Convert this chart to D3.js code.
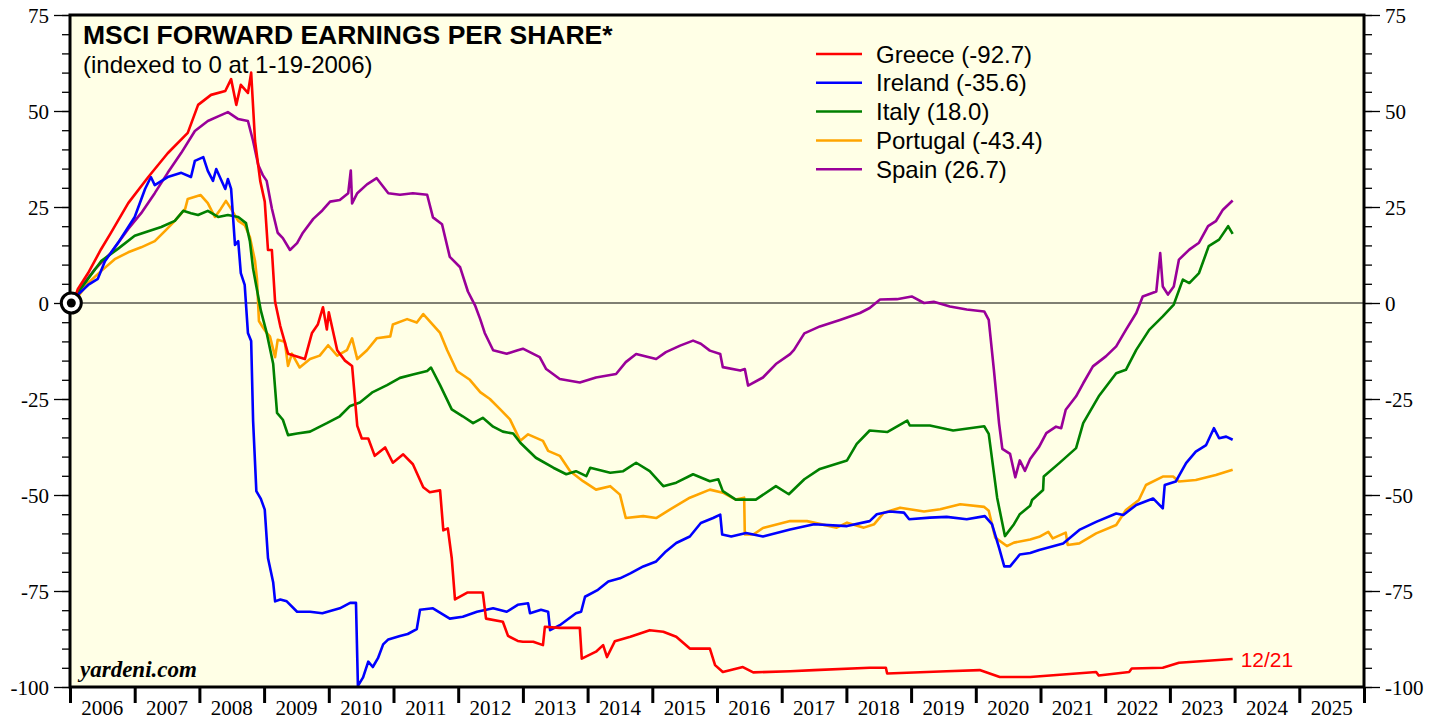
<!DOCTYPE html>
<html lang="en">
<head>
  <meta charset="UTF-8" />
  <title>MSCI Forward Earnings Per Share</title>
  <style>
    body {
      margin: 0;
      background: white;
    }
    svg {
      display: block;
    }
    .tick-label {
      font-family: "Liberation Serif", "Times New Roman", serif;
      font-size: 21px;
      fill: #000;
    }
    .title {
      font-family: "Liberation Sans", Arial, sans-serif;
      font-weight: bold;
      font-size: 26.5px;
    }
    .subtitle, .legend-label {
      font-family: "Liberation Sans", Arial, sans-serif;
      font-size: 24px;
    }
    .end-label {
      font-family: "Liberation Sans", Arial, sans-serif;
      font-size: 21px;
    }
    .credit {
      font-family: "Liberation Serif", "Times New Roman", serif;
      font-weight: bold;
      font-style: italic;
      font-size: 23px;
    }
  </style>
</head>
<body>
  <svg width="1442" height="719"></svg>

  <script src="https://d3js.org/d3.v7.min.js"></script>
  <script>
    // [year, index value] (indexed to 0 at 1-19-2006)
    const greece = [
      [2006.05, 0], [2006.12, 3.6], [2006.28, 7.8], [2006.48, 14], [2006.63, 18.2],
      [2006.90, 26], [2007.21, 32.8], [2007.51, 39], [2007.82, 44.3], [2007.98, 51.6],
      [2008.18, 54.2], [2008.40, 55.2], [2008.49, 58.3], [2008.57, 51.6], [2008.64, 56.8],
      [2008.75, 54.7], [2008.80, 60], [2008.86, 42.2], [2008.94, 31.8], [2009.01, 26.4],
      [2009.06, 13.8], [2009.12, 13.8], [2009.17, 0.3], [2009.25, -6], [2009.37, -13.2],
      [2009.63, -14.6], [2009.74, -7.8], [2009.83, -5.6], [2009.91, -1.1], [2009.97, -6.9],
      [2010.00, -2.4], [2010.13, -12.3], [2010.25, -15], [2010.36, -16.4], [2010.44, -32],
      [2010.51, -35.3], [2010.61, -35.3], [2010.71, -39.8], [2010.87, -37.6], [2010.99, -41.6],
      [2011.15, -39.4], [2011.30, -42], [2011.46, -48], [2011.56, -49.3], [2011.72, -48.8],
      [2011.77, -59.2], [2011.84, -58.7], [2011.90, -66.4], [2011.95, -77.2], [2012.14, -75.4],
      [2012.38, -75.4], [2012.43, -82.2], [2012.69, -83], [2012.77, -86.7], [2012.92, -88],
      [2013.00, -88.2], [2013.16, -88.2], [2013.31, -89.1], [2013.34, -84.3], [2013.57, -84.6],
      [2013.88, -84.6], [2013.91, -92.6], [2014.13, -90.8], [2014.24, -89.1], [2014.30, -92.2],
      [2014.42, -88.1], [2014.66, -86.9], [2014.96, -85.2], [2015.17, -85.6], [2015.37, -86.9],
      [2015.58, -90], [2015.89, -90], [2015.97, -94.3], [2016.09, -96.1], [2016.40, -94.8],
      [2016.56, -96.2], [2017.13, -95.9], [2017.50, -95.6], [2018.36, -95], [2018.61, -95],
      [2018.63, -96.5], [2019.55, -95.9], [2020.06, -95.6], [2020.37, -97.4], [2020.84, -97.4],
      [2021.86, -96.1], [2021.90, -97], [2022.37, -96.1], [2022.41, -95.2], [2022.89, -95],
      [2023.14, -93.7], [2023.97, -92.7]
    ];

    const ireland = [
      [2006.05, 0], [2006.12, 2.1], [2006.28, 4.7], [2006.43, 6.3], [2006.54, 10.9],
      [2006.74, 15.6], [2007.00, 22.4], [2007.16, 29.7], [2007.25, 32.8], [2007.31, 30.7],
      [2007.51, 32.8], [2007.72, 33.9], [2007.87, 32.8], [2007.93, 37], [2008.06, 38],
      [2008.13, 34.4], [2008.21, 31.8], [2008.26, 34.9], [2008.40, 29.7], [2008.44, 32.3],
      [2008.49, 29.7], [2008.55, 15.1], [2008.60, 16.1], [2008.64, 7.8], [2008.70, 4.7],
      [2008.75, -7.8], [2008.80, -9.9], [2008.83, -30.7], [2008.88, -49], [2008.95, -51],
      [2009.01, -53.8], [2009.06, -66.4], [2009.14, -72.7], [2009.17, -77.7], [2009.25, -77.2],
      [2009.35, -77.7], [2009.51, -80.4], [2009.71, -80.4], [2009.90, -80.8], [2010.17, -79.5],
      [2010.33, -78.1], [2010.42, -78.1], [2010.45, -99.7], [2010.53, -97.5], [2010.61, -93.4],
      [2010.68, -94.8], [2010.76, -92.5], [2010.84, -88.9], [2010.92, -87.6], [2011.10, -86.7],
      [2011.22, -86.2], [2011.36, -84.9], [2011.41, -79.9], [2011.61, -79.5], [2011.87, -82.2],
      [2012.07, -81.7], [2012.29, -80.4], [2012.54, -79.5], [2012.75, -80.4], [2012.92, -78.6],
      [2013.08, -78.2], [2013.11, -80.8], [2013.28, -79.9], [2013.39, -80.4], [2013.42, -85.2],
      [2013.57, -83.9], [2013.82, -80.8], [2013.90, -80.4], [2013.96, -76.5], [2014.16, -74.7],
      [2014.32, -72.5], [2014.50, -71.7], [2014.66, -70.4], [2014.86, -68.6], [2015.06, -67.3],
      [2015.21, -64.7], [2015.37, -62.5], [2015.58, -60.8], [2015.75, -57.3], [2015.94, -56],
      [2016.05, -55.1], [2016.08, -60.3], [2016.22, -60.8], [2016.45, -59.9], [2016.71, -60.8],
      [2017.13, -59], [2017.50, -57.6], [2018.01, -58.1], [2018.36, -56.8], [2018.47, -55],
      [2018.67, -54.3], [2018.89, -54.6], [2018.97, -56.3], [2019.29, -55.9], [2019.55, -55.7],
      [2019.86, -56.3], [2020.14, -55.5], [2020.25, -57.6], [2020.36, -63.8], [2020.44, -68.6],
      [2020.53, -68.6], [2020.68, -65.5], [2020.84, -65.1], [2020.98, -64.3], [2021.35, -62.6],
      [2021.60, -59.1], [2021.86, -57], [2022.17, -54.8], [2022.28, -55.2], [2022.48, -52.6],
      [2022.74, -50.9], [2022.89, -53.5], [2022.92, -47.4], [2023.09, -46.5], [2023.25, -41.7],
      [2023.40, -38.7], [2023.56, -37], [2023.68, -32.6], [2023.76, -35.2], [2023.87, -34.8],
      [2023.97, -35.6]
    ];

    const italy = [
      [2006.05, 0], [2006.12, 2.6], [2006.28, 6.3], [2006.48, 10.9], [2006.74, 14.1],
      [2007.00, 17.5], [2007.21, 18.7], [2007.41, 19.8], [2007.62, 21.4], [2007.75, 24],
      [2007.87, 23.4], [2007.98, 22.9], [2008.13, 24], [2008.29, 22.4], [2008.44, 22.9],
      [2008.60, 22.4], [2008.72, 20.8], [2008.78, 16.1], [2008.83, 8.9], [2008.91, 1.6],
      [2008.95, -2], [2009.04, -7.8], [2009.14, -15.8], [2009.20, -28.6], [2009.29, -30.4],
      [2009.37, -34.4], [2009.51, -34], [2009.71, -33.5], [2009.97, -31.3], [2010.17, -29.5],
      [2010.33, -26.8], [2010.48, -25.9], [2010.68, -23.2], [2010.90, -21.4], [2011.10, -19.5],
      [2011.30, -18.6], [2011.52, -17.7], [2011.58, -16.8], [2011.72, -21.4], [2011.90, -27.7],
      [2012.07, -29.5], [2012.23, -31.3], [2012.38, -29.9], [2012.54, -32.2], [2012.69, -33.5],
      [2012.85, -34], [2012.96, -36.4], [2013.20, -40.3], [2013.47, -42.9], [2013.67, -44.6],
      [2013.82, -43.8], [2013.98, -45.1], [2014.04, -42.9], [2014.35, -44.2], [2014.55, -43.8],
      [2014.75, -41.6], [2014.96, -43.8], [2015.17, -47.7], [2015.37, -46.8], [2015.63, -44.6],
      [2015.89, -46.4], [2016.02, -45.9], [2016.09, -49], [2016.29, -51.2], [2016.60, -51.2],
      [2016.91, -47.7], [2017.11, -49.8], [2017.35, -45.9], [2017.59, -43.2], [2018.01, -41],
      [2018.16, -36.7], [2018.36, -33.2], [2018.63, -33.6], [2018.94, -30.6], [2018.98, -31.9],
      [2019.29, -31.9], [2019.65, -33.2], [2020.13, -32.1], [2020.20, -34.1], [2020.33, -50.7],
      [2020.45, -60.7], [2020.59, -57.6], [2020.68, -55], [2020.84, -52.8], [2020.87, -51.3],
      [2021.04, -48.7], [2021.05, -45.2], [2021.29, -41.7], [2021.55, -37.8], [2021.66, -31.3],
      [2021.90, -24.3], [2022.17, -18.3], [2022.32, -17.4], [2022.48, -12.2], [2022.68, -7],
      [2022.89, -3.5], [2023.06, -0.4], [2023.20, 6.1], [2023.30, 5.2], [2023.45, 7.8],
      [2023.60, 14.8], [2023.76, 16.5], [2023.90, 20], [2023.97, 18]
    ];

    const portugal = [
      [2006.05, 0], [2006.12, 1.6], [2006.28, 5.2], [2006.48, 8.3], [2006.70, 11.5],
      [2006.90, 13.2], [2007.10, 14.5], [2007.31, 16.1], [2007.47, 18.8], [2007.62, 21.4],
      [2007.78, 24.5], [2007.82, 27.1], [2008.02, 28.1], [2008.13, 26], [2008.24, 22.4],
      [2008.33, 24.5], [2008.41, 26.6], [2008.49, 24.5], [2008.60, 21.4], [2008.70, 20.3],
      [2008.78, 17.2], [2008.86, 10.9], [2008.89, 6.3], [2008.92, -4.7], [2008.98, -6.3],
      [2009.04, -7.8], [2009.09, -8.7], [2009.17, -14.1], [2009.21, -9.6], [2009.32, -10.1],
      [2009.37, -16.4], [2009.43, -13.2], [2009.55, -16.8], [2009.71, -14.6], [2009.86, -13.7],
      [2009.99, -11], [2010.13, -13.7], [2010.28, -12.3], [2010.36, -9.2], [2010.44, -14.6],
      [2010.59, -12.3], [2010.74, -9.2], [2010.95, -8.7], [2010.99, -5.6], [2011.21, -4.2],
      [2011.36, -5.1], [2011.46, -2.9], [2011.53, -4.2], [2011.72, -7.8], [2011.83, -12.3],
      [2011.98, -17.7], [2012.18, -20], [2012.34, -23.2], [2012.49, -25], [2012.65, -27.7],
      [2012.80, -30.3], [2012.96, -35.9], [2013.08, -34.2], [2013.31, -35.9], [2013.39, -38.5],
      [2013.57, -39.8], [2013.73, -43.8], [2013.93, -46.4], [2014.13, -48.6], [2014.35, -47.7],
      [2014.50, -49.9], [2014.59, -56], [2014.86, -55.5], [2015.06, -56], [2015.27, -53.8],
      [2015.58, -50.7], [2015.89, -48.6], [2016.09, -49.4], [2016.29, -51.2], [2016.42, -50.7],
      [2016.43, -60.3], [2016.56, -60.3], [2016.71, -58.6], [2017.13, -56.8], [2017.39, -56.8],
      [2017.85, -58.5], [2018.01, -57.2], [2018.27, -58.5], [2018.43, -57.6], [2018.58, -54.6],
      [2018.83, -53.3], [2019.20, -54.3], [2019.45, -53.7], [2019.76, -52.4], [2020.13, -53.1],
      [2020.20, -54.1], [2020.30, -61.1], [2020.48, -63.3], [2020.59, -62.4], [2020.84, -61.6],
      [2020.98, -60.9], [2021.12, -59.6], [2021.19, -61.3], [2021.39, -59.8], [2021.42, -63],
      [2021.60, -62.6], [2021.86, -60], [2022.17, -57.8], [2022.32, -53.9], [2022.52, -51.3],
      [2022.63, -47.4], [2022.89, -45.2], [2023.05, -45.2], [2023.14, -46.5], [2023.40, -46.1],
      [2023.71, -44.8], [2023.97, -43.4]
    ];

    const spain = [
      [2006.05, 0], [2006.12, 3.1], [2006.39, 8.9], [2006.63, 13], [2006.90, 19.3],
      [2007.10, 23.4], [2007.31, 28.6], [2007.51, 33.9], [2007.72, 39.1], [2007.93, 44.8],
      [2008.13, 47.4], [2008.29, 48.6], [2008.44, 49.7], [2008.60, 47.9], [2008.75, 47.4],
      [2008.83, 42.2], [2008.91, 35.9], [2008.98, 33.3], [2009.04, 31.8], [2009.12, 24.6],
      [2009.21, 18.3], [2009.29, 16.9], [2009.40, 13.8], [2009.51, 15.6], [2009.60, 18.3],
      [2009.76, 21.9], [2009.90, 24.1], [2010.02, 26.4], [2010.17, 26.8], [2010.30, 28.6],
      [2010.34, 34.5], [2010.36, 25.9], [2010.44, 28.6], [2010.59, 30.9], [2010.74, 32.5],
      [2010.92, 28.6], [2011.10, 28.2], [2011.30, 28.6], [2011.52, 28.2], [2011.61, 22.3],
      [2011.75, 20.5], [2011.87, 12], [2012.03, 9.3], [2012.15, 3], [2012.26, -0.6],
      [2012.34, -4.2], [2012.41, -7.8], [2012.54, -12.3], [2012.75, -13.2], [2012.92, -12.3],
      [2013.00, -11.9], [2013.26, -14.1], [2013.36, -17.2], [2013.57, -19.8], [2013.88, -20.7],
      [2014.13, -19.4], [2014.44, -18.5], [2014.59, -15.4], [2014.75, -13.3], [2015.06, -14.6],
      [2015.21, -12.8], [2015.43, -11.1], [2015.63, -9.8], [2015.75, -10.6], [2015.89, -12.4],
      [2016.05, -13.3], [2016.09, -16.7], [2016.36, -17.6], [2016.43, -17.2], [2016.48, -21.5],
      [2016.71, -19.4], [2016.91, -15.9], [2017.13, -13.3], [2017.19, -12.2], [2017.35, -7.9],
      [2017.59, -6.1], [2017.90, -4.4], [2018.21, -2.6], [2018.36, -1.3], [2018.52, 0.9],
      [2018.78, 1], [2019.01, 1.7], [2019.20, 0], [2019.35, 0.3], [2019.60, -0.9],
      [2019.86, -1.7], [2020.13, -2.2], [2020.20, -4.4], [2020.28, -17.5], [2020.36, -31.4],
      [2020.41, -38], [2020.53, -39.3], [2020.61, -45.4], [2020.68, -41], [2020.76, -43.7],
      [2020.84, -40.6], [2020.98, -37.4], [2021.09, -33.9], [2021.24, -32.2], [2021.32, -32.6],
      [2021.39, -27.8], [2021.55, -24.3], [2021.66, -20.9], [2021.81, -16.5], [2022.01, -13.9],
      [2022.17, -11.3], [2022.32, -7], [2022.48, -2.6], [2022.58, 1.7], [2022.79, 3],
      [2022.85, 13], [2022.89, 4.3], [2022.97, 2.2], [2023.06, 4.3], [2023.14, 11.3],
      [2023.30, 13.9], [2023.45, 15.7], [2023.59, 20], [2023.71, 21.3], [2023.82, 24.3],
      [2023.97, 26.7]
    ];

    const seriesNames = ["Greece (-92.7)", "Ireland (-35.6)", "Italy (18.0)", "Portugal (-43.4)", "Spain (26.7)"];
    const seriesColors = ["#ff0000", "#0000ff", "#008000", "#ffa500", "#990099"];
    const seriesData = [greece, ireland, italy, portugal, spain];

    const yearTicks = d3.range(2006, 2027);
    const yearLabels = d3.range(2006, 2026);
    const yMajorTicks = d3.range(-100, 76, 25);
    const yMinorTicks = d3.range(-100, 76, 5);

    const plot = { left: 70, right: 1364, top: 15, bottom: 687 };
    const serif = "'Liberation Serif', 'Times New Roman', serif";

    const svg = d3.select("svg");

    const x = d3.scaleLinear().domain([2006, 2026]).range([plot.left, plot.right]);
    const y = d3.scaleLinear().domain([-100, 75]).range([plot.bottom, plot.top]);

    // plot background
    svg.append("rect")
      .attr("x", plot.left)
      .attr("y", plot.top)
      .attr("width", plot.right - plot.left)
      .attr("height", plot.bottom - plot.top)
      .attr("fill", "#ffffe6");

    // zero line
    svg.append("line")
      .attr("x1", plot.left).attr("x2", plot.right)
      .attr("y1", y(0)).attr("y2", y(0))
      .attr("stroke", "#000")
      .attr("stroke-width", 1);

    // y axes, both sides
    function yAxis(g, axisFn, minor) {
      const a = axisFn(y)
        .tickValues(minor ? yMinorTicks : yMajorTicks)
        .tickSize(minor ? 7 : 15)
        .tickPadding(5)
        .tickFormat(minor ? "" : d => d);
      g.call(a);
      g.select(".domain").remove();
      g.attr("font-family", serif).attr("font-size", 21);
      g.selectAll(".tick line").attr("stroke", "#000").attr("stroke-width", 1.3);
      g.selectAll(".tick text")
        .style("font-family", serif)
        .style("font-size", "21px")
        .attr("fill", "#000")
        .attr("dy", "0.35em");
    }

    svg.append("g").attr("transform", `translate(${plot.left - 1},0)`).call(yAxis, d3.axisLeft, true);
    svg.append("g").attr("transform", `translate(${plot.left - 1},0)`).call(yAxis, d3.axisLeft, false);
    svg.append("g").attr("transform", `translate(${plot.right + 1},0)`).call(yAxis, d3.axisRight, true);
    svg.append("g").attr("transform", `translate(${plot.right + 1},0)`).call(yAxis, d3.axisRight, false);

    // x axis: ticks at year boundaries, labels centered in each year
    const xg = svg.append("g").attr("transform", `translate(0,${plot.bottom})`);
    xg.call(d3.axisBottom(x).tickValues(yearTicks).tickSize(16).tickFormat(""));
    xg.select(".domain").remove();
    xg.selectAll(".tick line").attr("stroke", "#000").attr("stroke-width", 3);

    svg.append("g")
      .selectAll("text")
      .data(yearLabels)
      .join("text")
        .attr("class", "tick-label")
        .style("font-family", serif)
        .attr("x", d => x(d + 0.5))
        .attr("y", 715)
        .attr("text-anchor", "middle")
        .text(d => d);

    // series lines
    const line = d3.line()
      .x(d => x(d[0]))
      .y(d => y(d[1]));

    const order = [4, 3, 2, 1, 0];
    svg.append("g")
      .selectAll("path")
      .data(order)
      .join("path")
        .attr("d", i => line(seriesData[i]))
        .attr("fill", "none")
        .attr("stroke", i => seriesColors[i])
        .attr("stroke-width", 2.6)
        .attr("stroke-linejoin", "round");

    // frame
    svg.append("rect")
      .attr("x", plot.left)
      .attr("y", plot.top)
      .attr("width", plot.right - plot.left)
      .attr("height", plot.bottom - plot.top)
      .attr("fill", "none")
      .attr("stroke", "#000")
      .attr("stroke-width", 3);

    // index origin marker
    svg.append("circle")
      .attr("cx", x(2006.02)).attr("cy", y(0)).attr("r", 10)
      .attr("fill", "#fff").attr("stroke", "#000").attr("stroke-width", 3);
    svg.append("circle")
      .attr("cx", x(2006.02)).attr("cy", y(0)).attr("r", 4.5)
      .attr("fill", "#000");

    // titles
    svg.append("text")
      .attr("class", "title")
      .attr("x", 83).attr("y", 44)
      .text("MSCI FORWARD EARNINGS PER SHARE*");

    svg.append("text")
      .attr("class", "subtitle")
      .attr("x", 83).attr("y", 73)
      .text("(indexed to 0 at 1-19-2006)");

    // legend
    const legend = svg.append("g")
      .selectAll("g")
      .data(seriesNames)
      .join("g")
        .attr("transform", (d, i) => `translate(816,${54 + i * 28.8})`);

    legend.append("line")
      .attr("x1", 0).attr("x2", 46)
      .attr("stroke", (d, i) => seriesColors[i])
      .attr("stroke-width", 2.5);

    legend.append("text")
      .attr("class", "legend-label")
      .attr("x", 60)
      .attr("y", 8.5)
      .text(d => d);

    // end date label
    const last = greece[greece.length - 1];
    svg.append("text")
      .attr("class", "end-label")
      .attr("x", x(last[0]) + 8)
      .attr("y", y(last[1]) + 8)
      .attr("fill", "#ff0000")
      .text("12/21");

    svg.append("text")
      .attr("class", "credit")
      .attr("x", 80).attr("y", 677)
      .text("yardeni.com");
  </script>
</body>
</html>
